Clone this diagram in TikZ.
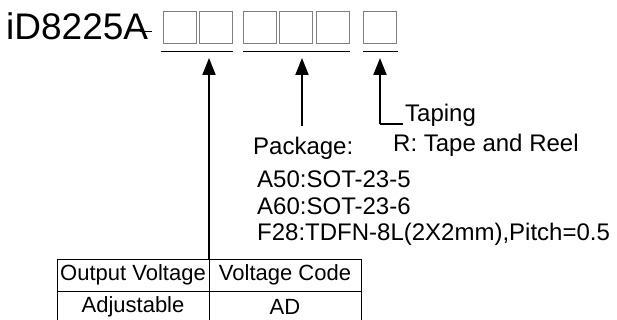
\documentclass[tikz,border=0pt]{standalone}
\usepackage{fontspec}
\setmainfont{Liberation Sans}
\usetikzlibrary{arrows.meta}
\begin{document}
\begin{tikzpicture}[x=1pt,y=-1pt,
  sq/.style={draw=black!50,line width=1pt,minimum width=33pt,minimum height=32pt,inner sep=0pt,outer sep=0pt},
  uline/.style={line width=1pt},
  uparrow/.style={line width=2pt,-{Triangle[length=17pt,width=13pt]}},
  lbl/.style={anchor=base west,inner sep=0pt,font=\fontsize{24}{28}\selectfont},
  cell/.style={draw,line width=0.8pt,minimum width=152pt,minimum height=32pt,inner sep=0pt,outer sep=0pt,font=\fontsize{22}{26}\selectfont}
]
\useasboundingbox (0,0) rectangle (617,320);
\node[anchor=base west,inner sep=0pt,font=\fontsize{37}{44}\selectfont] (title) at (6,40) {iD8225A};
\coordinate (d1) at (140,31); \coordinate (d2) at (152,31);
\draw[line width=0.8pt] (d1) -- (d2);
% boxes
\node[sq] (b1) at (179.5,28) {};
\node[sq] (b2) at (215.5,28) {};
\node[sq] (b3) at (259.5,28) {};
\node[sq] (b4) at (296,28) {};
\node[sq] (b5) at (332.5,28) {};
\node[sq] (b6) at (379.5,28) {};
% underlines
\coordinate (u1a) at (161,52); \coordinate (u1b) at (233,52);
\coordinate (u2a) at (243,52); \coordinate (u2b) at (350,52);
\coordinate (u3a) at (363,52); \coordinate (u3b) at (398,52);
\draw[uline] (u1a) -- (u1b);
\draw[uline] (u2a) -- (u2b);
\draw[uline] (u3a) -- (u3b);
% table
\node[cell] (c11) at (133,275) {Output Voltage};
\node[cell] (c12) at (285,275) {Voltage Code};
\node[cell] (c21) at (133,307) {Adjustable};
\node[cell] (c22) at (285,307) {AD};
% arrows
\coordinate (t1) at (209,58);
\coordinate (t2) at (302,58);
\coordinate (t3) at (380,58);
\coordinate (s2) at (302,126);
\coordinate (s3) at (380,124);
\coordinate (e3) at (403,124);
\draw[uparrow] (c11.north east) -- (t1);
\draw[uparrow] (s2) -- (t2);
\draw[uparrow] (s3) -- (t3);
\draw[line width=1.3pt] (s3) -- (e3);
% labels
\node[lbl] (taping) at (405,122) {Taping};
\node[lbl] (reel) at (393,152) {R: Tape and Reel};
\node[lbl] (pkg) at (253,155) {Package:};
\node[lbl] (p1) at (257,188) {A50:SOT-23-5};
\node[lbl] (p2) at (257,214) {A60:SOT-23-6};
\node[lbl] (p3) at (257,240) {F28:TDFN-8L(2X2mm),Pitch=0.5};
\end{tikzpicture}
\end{document}
